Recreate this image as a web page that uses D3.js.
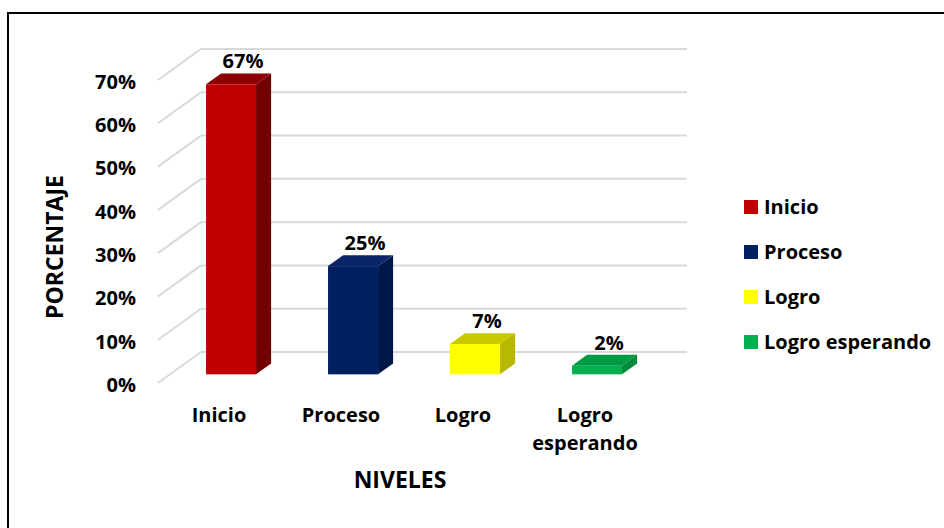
<!DOCTYPE html>
<html>
<head>
<meta charset="utf-8">
<script src="https://cdn.jsdelivr.net/npm/d3@7"></script>
<style>
  body { margin: 0; background: #fff; }
  text { font-family: "Open Sans", "Liberation Sans", sans-serif; font-weight: bold; fill: #000; }
</style>
</head>
<body>
<div id="chart"></div>
<script>
// Datos
var categories = ["Inicio", "Proceso", "Logro", "Logro esperando"];
var values = [0.67, 0.25, 0.07, 0.02];
var frontColors = ["#c00000", "#002060", "#ffff00", "#00b050"];
var sideColors = ["#730000", "#001848", "#b8b800", "#008a3c"];
var topColors = ["#8c0000", "#0a2668", "#c9c900", "#009a44"];

var width = 944, height = 528;

var svg = d3.select("#chart").append("svg")
  .attr("width", width)
  .attr("height", height);

// marco
svg.append("rect")
  .attr("x", 8).attr("y", 13)
  .attr("width", 960).attr("height", 540)
  .style("fill", "none")
  .style("stroke", "#000")
  .style("stroke-width", 2);

// profundidad 3D (plano frontal -> pared del fondo)
var depthX = 43, depthY = -31;

var y = d3.scaleLinear()
  .domain([0, 0.7])
  .range([383, 80]);

var x = d3.scaleBand()
  .domain(categories)
  .range([158, 646])
  .paddingInner(0.59)
  .paddingOuter(0.295);

var fmt = d3.format(".0%");

// líneas de cuadrícula
var grid = svg.append("g");
y.ticks(7).forEach(function(v) {
  var xf = x.range()[0], yf = y(v);
  grid.append("line")
    .attr("x1", xf).attr("y1", yf)
    .attr("x2", xf + depthX).attr("y2", yf + depthY);
  grid.append("line")
    .attr("x1", xf + depthX).attr("y1", yf + depthY)
    .attr("x2", 687).attr("y2", yf + depthY);
});
grid.selectAll("line")
  .style("stroke", "#d9d9d9")
  .style("stroke-width", 2);

// eje Y
var yAxis = svg.append("g")
  .attr("transform", "translate(" + x.range()[0] + ",2)")
  .call(d3.axisLeft(y).ticks(7).tickFormat(fmt).tickSize(0).tickPadding(22));
yAxis.select(".domain").remove();
yAxis.selectAll("text").style("font-size", "20px").style("font-family", null);

// eje X
var xAxis = svg.append("g")
  .attr("transform", "translate(0,383)")
  .call(d3.axisBottom(x).tickSize(0).tickPadding(25));
xAxis.select(".domain").remove();
xAxis.selectAll("text")
  .style("font-size", "20px")
  .style("font-family", null)
  .each(function(d) {
    var words = d.split(" ");
    if (words.length > 1) {
      var t = d3.select(this).text(null);
      words.forEach(function(w, i) {
        t.append("tspan")
          .attr("x", 0)
          .attr("dy", i === 0 ? "0.71em" : "1.4em")
          .text(w);
      });
      t.attr("dy", null);
    }
  });

// barras 3D
var z0 = 0.28, z1 = 0.35;
var bx = z0 * depthX, by = z0 * depthY;
var sx = z1 * depthX, sy = z1 * depthY;

var bars = svg.selectAll(".bar")
  .data(values)
  .enter().append("g")
  .attr("class", "bar");

bars.each(function(v, i) {
  var g = d3.select(this);
  var x0 = x(categories[i]) + bx, x1 = x0 + x.bandwidth();
  var yt = y(v) + by, yb = y(0) + by;
  g.append("polygon")
    .attr("points", [[x1, yt], [x1 + sx, yt + sy], [x1 + sx, yb + sy], [x1, yb]].join(" "))
    .style("fill", sideColors[i]);
  g.append("polygon")
    .attr("points", [[x0, yt], [x1, yt], [x1 + sx, yt + sy], [x0 + sx, yt + sy]].join(" "))
    .style("fill", topColors[i]);
  g.append("rect")
    .attr("x", x0).attr("y", yt)
    .attr("width", x.bandwidth())
    .attr("height", yb - yt)
    .style("fill", frontColors[i]);
  g.append("text")
    .attr("x", x0 + x.bandwidth() / 2 + 12)
    .attr("y", yt + sy - 5)
    .attr("text-anchor", "middle")
    .style("font-size", "20px")
    .text(fmt(v));
});

// títulos de ejes
svg.append("text")
  .attr("transform", "translate(63,247) rotate(-90)")
  .attr("text-anchor", "middle")
  .style("font-size", "23px")
  .text("PORCENTAJE");

svg.append("text")
  .attr("x", 400).attr("y", 488)
  .attr("text-anchor", "middle")
  .style("font-size", "23px")
  .text("NIVELES");

// leyenda
var legend = svg.selectAll(".legend")
  .data(categories)
  .enter().append("g")
  .attr("class", "legend")
  .attr("transform", function(d, i) { return "translate(744," + (200 + i * 45) + ")"; });

legend.append("rect")
  .attr("width", 14).attr("height", 14)
  .style("fill", function(d, i) { return frontColors[i]; });

legend.append("text")
  .attr("x", 20).attr("y", 14)
  .style("font-size", "20px")
  .text(function(d) { return d; });
</script>
</body>
</html>
